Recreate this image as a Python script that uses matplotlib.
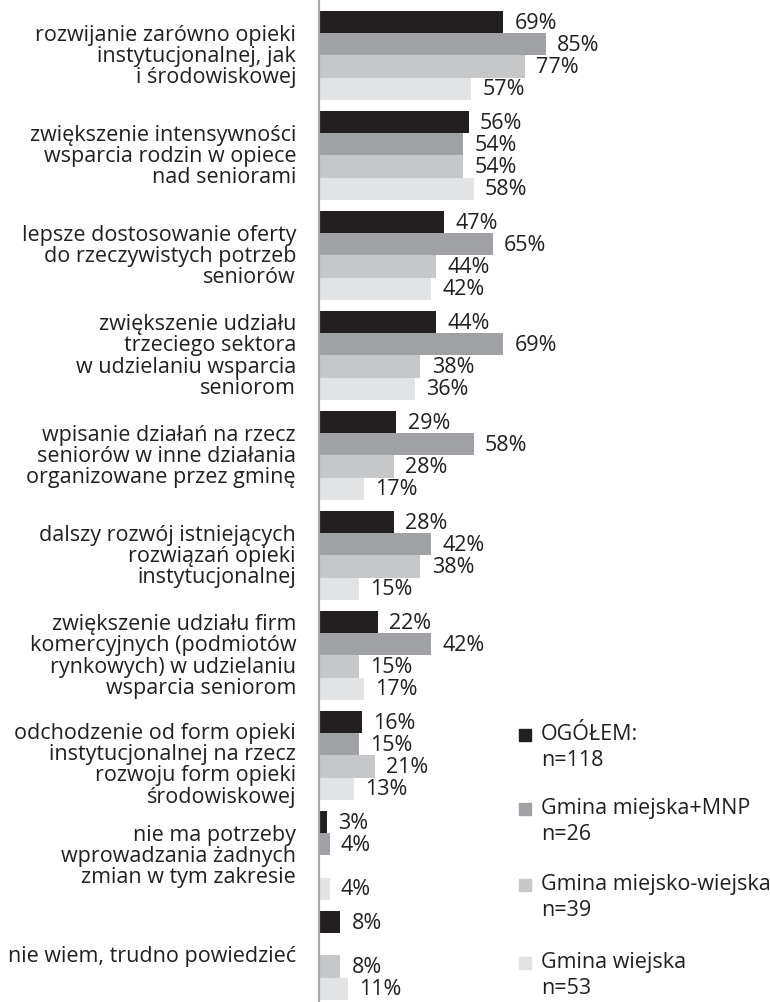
import matplotlib
matplotlib.use("Agg")
import matplotlib.pyplot as plt
import matplotlib.transforms as mtransforms
import numpy as np
from matplotlib.patches import Rectangle

plt.rcParams['font.family'] = ['Open Sans', 'DejaVu Sans']

categories = [
    "rozwijanie zarówno opieki\ninstytucjonalnej, jak\ni środowiskowej",
    "zwiększenie intensywności\nwsparcia rodzin w opiece\nnad seniorami",
    "lepsze dostosowanie oferty\ndo rzeczywistych potrzeb\nseniorów",
    "zwiększenie udziału\ntrzeciego sektora\nw udzielaniu wsparcia\nseniorom",
    "wpisanie działań na rzecz\nseniorów w inne działania\norganizowane przez gminę",
    "dalszy rozwój istniejących\nrozwiązań opieki\ninstytucjonalnej",
    "zwiększenie udziału firm\nkomercyjnych (podmiotów\nrynkowych) w udzielaniu\nwsparcia seniorom",
    "odchodzenie od form opieki\ninstytucjonalnej na rzecz\nrozwoju form opieki\nśrodowiskowej",
    "nie ma potrzeby\nwprowadzania żadnych\nzmian w tym zakresie",
    "nie wiem, trudno powiedzieć",
]

series_names = [
    "OGÓŁEM:\nn=118",
    "Gmina miejska+MNP\nn=26",
    "Gmina miejsko-wiejska\nn=39",
    "Gmina wiejska\nn=53",
]

ogolem = [69, 56, 47, 44, 29, 28, 22, 16, 3, 8]
miejska = [85, 54, 65, 69, 58, 42, 42, 15, 4, np.nan]
miejsko_wiejska = [77, 54, 44, 38, 28, 38, 15, 21, np.nan, 8]
wiejska = [57, 58, 42, 36, 17, 15, 17, 13, 4, 11]

series = [ogolem, miejska, miejsko_wiejska, wiejska]
colors = ["#231f20", "#a0a1a4", "#c6c7c9", "#e2e3e5"]

FS = 15.5
TXT = '#231f20'
W, H = 770, 1003
fig = plt.figure(figsize=(W / 100, H / 100), dpi=100)
ax = fig.add_axes([319 / W, 0, (586 - 319) / W, 1])

step = 4.5
n = len(categories)
for j, (vals, c) in enumerate(zip(series, colors)):
    for g in range(n):
        v = vals[g]
        if np.isnan(v):
            continue
        y = g * step + j
        ax.barh(y, v, height=1.0, color=c, edgecolor='none')
        ax.annotate(f"{v:.0f}%", (v, y), xytext=(8, 0), textcoords='offset points',
                    ha='left', va='center', fontsize=FS, color=TXT,
                    annotation_clip=False)

ax.set_xlim(0, 100)
ax.set_ylim(44.1, -1.04)

# category labels (right-aligned, left of axis)
label_tf = mtransforms.blended_transform_factory(ax.transAxes, ax.transData)
label_tf = label_tf + mtransforms.ScaledTranslation(-23 / 100, 0, fig.dpi_scale_trans)
for g, cat in enumerate(categories):
    yc = g * step + 1.5 + (0.4 if g == 7 else 0.0)
    ax.text(0, yc, cat, transform=label_tf, ha='right', va='center',
            fontsize=FS, color=TXT, linespacing=1.02)

ax.set_yticks([])
ax.set_xticks([])
for s in ['top', 'right', 'bottom']:
    ax.spines[s].set_visible(False)
ax.spines['left'].set_color('#a8a8a8')
ax.spines['left'].set_linewidth(1.6)

# legend
leg_y = [737, 811, 887, 965]
for name, c, y in zip(series_names, colors, leg_y):
    fig.patches.append(Rectangle((519 / W, 1 - (y + 5) / H), 12 / W, 12 / H,
                                 transform=fig.transFigure, color=c))
    fig.text(541 / W, 1 - (y - 13) / H, name, fontsize=FS, color=TXT,
             ha='left', va='top', linespacing=1.3)

fig.savefig("out.png", dpi=100)
